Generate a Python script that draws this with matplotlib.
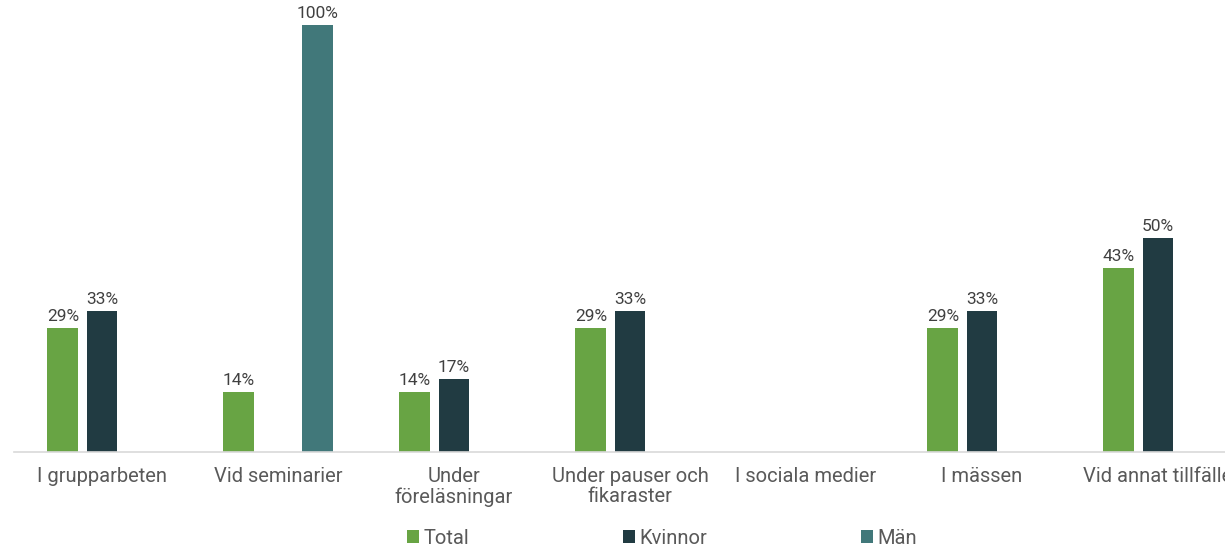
import numpy as np
import matplotlib.pyplot as plt

categories = ["I grupparbeten", "Vid seminarier", "Under\nföreläsningar",
              "Under pauser och\nfikaraster", "I sociala medier", "I mässen",
              "Vid annat tillfälle"]
total = [29, 14, 14, 29, 0, 29, 43]
kvinnor = [33, 0, 17, 33, 0, 33, 50]
man = [0, 100, 0, 0, 0, 0, 0]

series = [("Total", total, "#68a444"),
          ("Kvinnor", kvinnor, "#213b42"),
          ("Män", man, "#41787a")]

plt.rcParams["font.family"] = ["Roboto", "DejaVu Sans"]
text_color = "#595959"

fig = plt.figure(figsize=(12.25, 5.47), dpi=100)
ax = fig.add_axes([14 / 1225, 95 / 547, 1232 / 1225, 427 / 547])

x = np.arange(len(categories))
width = 0.176
step = 0.222
handles = []
for i, (name, vals, color) in enumerate(series):
    pos = x + (i - 1) * step
    bars = ax.bar(pos, vals, width, color=color, label=name)
    handles.append(bars)
    for xp, v in zip(pos, vals):
        if v > 0:
            ax.text(xp, v + 1.0, f"{v}%", ha="center", va="bottom",
                    fontsize=12.5, color="#404040")

ax.set_xlim(-0.5, len(categories) - 0.5)
ax.set_ylim(0, 100)
ax.set_xticks(x)
ax.set_xticklabels(categories, fontsize=14.5, color=text_color, linespacing=1.05)
ax.tick_params(axis="x", length=0, pad=11)
ax.set_yticks([])
for s in ["top", "left", "right"]:
    ax.spines[s].set_visible(False)
ax.spines["bottom"].set_color("#d9d9d9")
ax.spines["bottom"].set_linewidth(1.2)

leg = fig.legend(handles=handles, labels=[s[0] for s in series], loc="center",
                 bbox_to_anchor=(662 / 1225, 1 - 538 / 547), ncol=3, frameon=False,
                 fontsize=14.5, handlelength=0.6, handleheight=0.6, handletextpad=0.25,
                 columnspacing=7.6, labelcolor=text_color)

fig.savefig("out.png", dpi=100)
